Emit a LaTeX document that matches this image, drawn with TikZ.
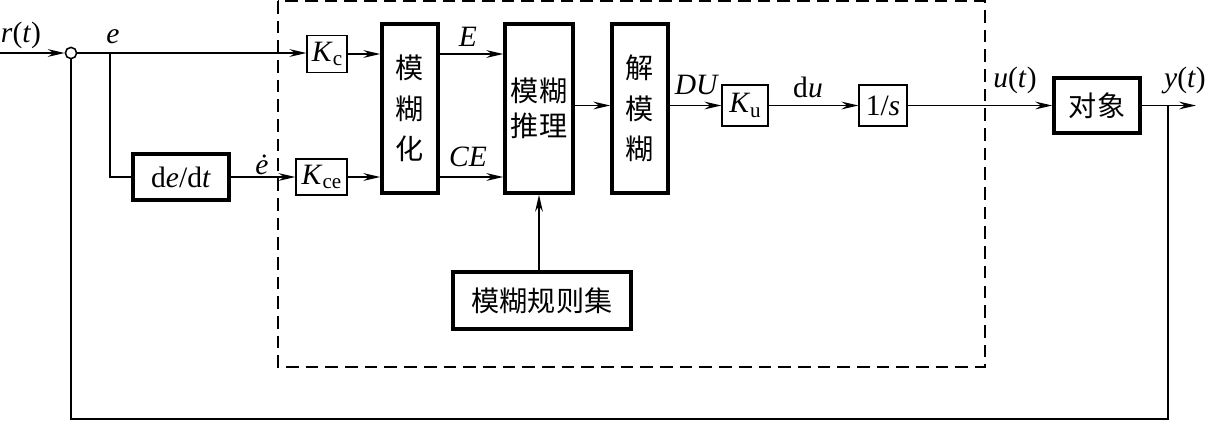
\documentclass[tikz,border=0pt]{standalone}
\usepackage{fontspec}
\setmainfont{Liberation Serif}
\newfontfamily\cjk{Noto Sans CJK SC}
\usetikzlibrary{arrows.meta,calc}
\newcommand{\vi}[1]{\textit{#1}}
\newcommand{\lsub}[1]{\raisebox{-0.35ex}{\fontsize{15}{15}\selectfont #1}}
\begin{document}
\begin{tikzpicture}[x=0.025cm,y=-0.025cm,
  thin line/.style={line width=1.1pt},
  arr/.style={thin line,-{Stealth[length=12pt,width=5.5pt,inset=4pt]}},
  thickbox/.style={draw,line width=2.5pt,inner sep=0pt,align=center},
  thinbox/.style={draw,line width=0.9pt,inner sep=0pt},
  lbl/.style={font=\fontsize{21}{23}\selectfont,inner sep=0pt},
  bm/.style={font=\fontsize{21}{23}\selectfont},
  cj/.style={font=\cjk\fontsize{20}{25}\selectfont},
  cjv/.style={font=\cjk\fontsize{20}{29}\selectfont},
]
\useasboundingbox (0,0) rectangle (1206,422);
% dashed region
\draw[line width=1.1pt,dash pattern=on 9pt off 5pt] (278,1) rectangle (985,367);
% nodes
\node[draw,circle,thin line,minimum size=8pt,inner sep=0pt] (sum) at (71,53) {};
\coordinate (in) at (0,53);
\coordinate (br1) at (110,53);
\node[thickbox,minimum width=96*0.025cm,minimum height=46*0.025cm,bm] (dedt) at (181,177) {d\vi{e}/d\vi{t}};
\node[thinbox,minimum width=40*0.025cm,minimum height=37*0.025cm,bm] (Kc) at (327,54) {\vi{K}\lsub{c}};
\node[thinbox,minimum width=51*0.025cm,minimum height=36*0.025cm,bm] (Kce) at (321.5,177) {\vi{K}\lsub{ce}};
\node[thickbox,minimum width=56*0.025cm,minimum height=169*0.025cm,cjv] (fuzz) at (410,108.5) {模\\糊\\化};
\node[thickbox,minimum width=68*0.025cm,minimum height=169*0.025cm,cj] (inf) at (539,108.5) {模糊\\推理};
\node[thickbox,minimum width=56*0.025cm,minimum height=169*0.025cm,cjv] (defuzz) at (640,108.5) {解\\模\\糊};
\node[thinbox,minimum width=46*0.025cm,minimum height=41*0.025cm,bm] (Ku) at (745,105.5) {\vi{K}\lsub{u}};
\node[thinbox,minimum width=48*0.025cm,minimum height=41*0.025cm,bm] (integ) at (883,105.5) {1/\vi{s}};
\node[thickbox,minimum width=86*0.025cm,minimum height=55*0.025cm,cj] (plant) at (1097,105.5) {对象};
\node[thickbox,minimum width=178*0.025cm,minimum height=57*0.025cm,cj] (rules) at (542,300.5) {模糊规则集};
\coordinate (out) at (1196,105.5);
\coordinate (br2) at (1168,105.5);
\coordinate (fb) at (1168,419);
% connectors
\draw[arr] (in) -- (sum.west);
\draw[arr] (sum.east) -- (sum.east -| Kc.west);
\draw[thin line] (br1) |- (dedt.west);
\draw[arr] (dedt.east) -- (Kce.west);
\draw[arr] (Kc.east) -- (Kc.east -| fuzz.west);
\draw[arr] (Kce.east) -- (Kce.east -| fuzz.west);
\draw[arr] (fuzz.east |- Kc.east) -- (inf.west |- Kc.east);
\draw[arr] (fuzz.east |- Kce.east) -- (inf.west |- Kce.east);
\draw[arr] (inf.east |- Ku.west) -- (defuzz.west |- Ku.west);
\draw[arr] (defuzz.east |- Ku.west) -- (Ku.west);
\draw[arr] (Ku.east) -- (integ.west);
\draw[arr] (integ.east) -- (plant.west);
\draw[arr] (plant.east) -- (out);
\draw[arr] (rules.north -| inf.south) -- (inf.south);
\draw[thin line] (br2) -- (fb) -| (sum.south);
% labels
\node[lbl] (lr) at (21,35) {\vi{r}(\vi{t})};
\node[lbl] (le) at (113,37) {\vi{e}};
\node[lbl] (led) at (262,165) {\vi{\.{e}}};
\node[lbl] (lE) at (468,37) {\vi{E}};
\node[lbl] (lCE) at (468,157) {\vi{CE}};
\node[lbl] (lDU) at (697,85) {\vi{DU}};
\node[lbl] (ldu) at (808,87) {d\vi{u}};
\node[lbl] (lu) at (1015,80) {\vi{u}(\vi{t})};
\node[lbl] (ly) at (1185,80) {\vi{y}(\vi{t})};
\end{tikzpicture}
\end{document}
